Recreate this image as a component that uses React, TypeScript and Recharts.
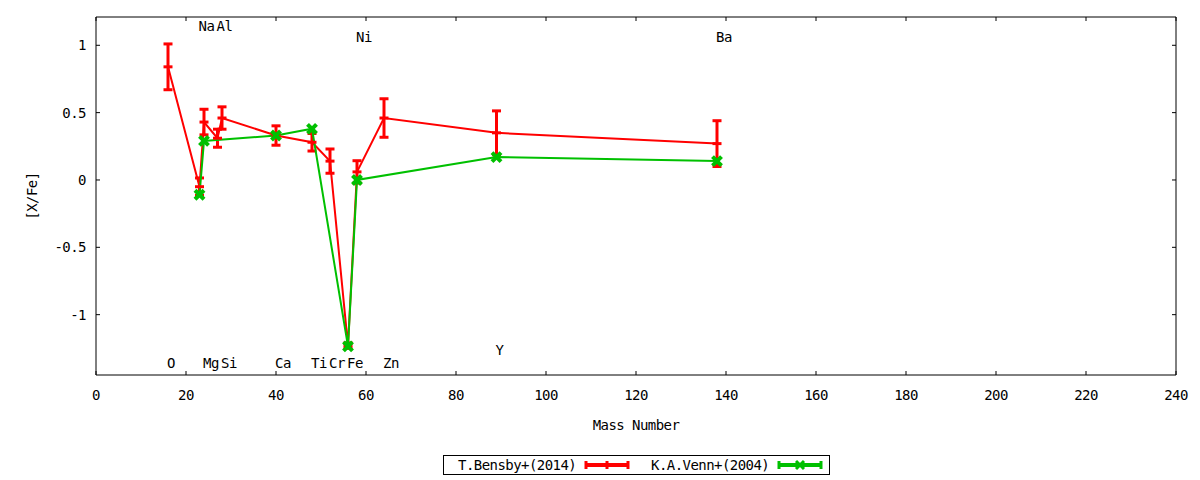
import { ComposedChart, Line, XAxis, YAxis, ErrorBar, Scatter } from 'recharts'

// ─── Data ────────────────────────────────────────────────────────────────────

// T.Bensby+(2014)
const bensbyMass = [16, 23, 24, 27, 28, 40, 48, 52, 56, 58, 64, 89, 138]
const bensbyValue = [0.84, -0.05, 0.43, 0.31, 0.46, 0.33, 0.28, 0.14, -1.23, 0.06, 0.46, 0.35, 0.27]
const bensbyError = [0.17, 0.065, 0.095, 0.067, 0.083, 0.072, 0.065, 0.09, 0.02, 0.083, 0.143, 0.163, 0.17]

// K.A.Venn+(2004)
const vennMass = [23, 24, 40, 48, 56, 58, 89, 138]
const vennValue = [-0.11, 0.29, 0.33, 0.38, -1.235, 0.0, 0.17, 0.14]

// element labels placed in data coordinates
const labelNames = ['O', 'Na', 'Mg', 'Al', 'Si', 'Ca', 'Ti', 'Cr', 'Fe', 'Ni', 'Zn', 'Y', 'Ba']
const labelMass = [16, 23, 24, 27, 28, 40, 48, 52, 56, 58, 64, 89, 138]
const labelLevel = [-1.36, 1.14, -1.36, 1.14, -1.36, -1.36, -1.36, -1.36, -1.36, 1.06, -1.36, -1.26, 1.06]

const xTicks = [0, 20, 40, 60, 80, 100, 120, 140, 160, 180, 200, 220, 240]
const yTicks = [-1, -0.5, 0, 0.5, 1]

// ─── Constants ───────────────────────────────────────────────────────────────

const FONT = '"DejaVu Sans Mono", monospace'
const RED = '#ff0000'
const GREEN = '#00c000'
const TICK = 4
const X_DOMAIN: [number, number] = [0, 240]
const Y_DOMAIN: [number, number] = [-1.448, 1.21]

const bensbyData = bensbyMass.map((x, i) => ({ x, y: bensbyValue[i], err: bensbyError[i] }))
const vennData = vennMass.map((x, i) => ({ x, y: vennValue[i] }))
const labelData = labelNames.map((name, i) => ({ name, x: labelMass[i], y: labelLevel[i] }))

const textStyle = { fontFamily: FONT, fontSize: 14, letterSpacing: -0.55, fill: '#000' }

// ─── Tick renderers (gnuplot style: ticks inside the frame) ──────────────────

function BottomTick({ x, y, payload }: any) {
  return (
    <g>
      <line x1={x} x2={x} y1={y} y2={y - TICK} stroke="#000" />
      <text x={x} y={y + 20} textAnchor="middle" dominantBaseline="central" style={textStyle}>
        {payload.value}
      </text>
    </g>
  )
}

function TopTick({ x, y }: any) {
  return <line x1={x} x2={x} y1={y} y2={y + TICK} stroke="#000" />
}

function LeftTick({ x, y, payload }: any) {
  return (
    <g>
      <line x1={x} x2={x + TICK} y1={y} y2={y} stroke="#000" />
      <text x={x - 10} y={y} textAnchor="end" dominantBaseline="central" style={textStyle}>
        {payload.value}
      </text>
    </g>
  )
}

function RightTick({ x, y }: any) {
  return <line x1={x} x2={x - TICK} y1={y} y2={y} stroke="#000" />
}

// ─── Point markers ───────────────────────────────────────────────────────────

function RedDot({ cx, cy, index }: any) {
  return <line key={`r${index}`} x1={cx - 4.5} x2={cx + 4.5} y1={cy} y2={cy} stroke={RED} strokeWidth={3} />
}

function GreenDot({ cx, cy, index }: any) {
  return (
    <g key={`g${index}`} stroke={GREEN} strokeWidth={4}>
      <line x1={cx - 4.5} y1={cy - 4.5} x2={cx + 4.5} y2={cy + 4.5} />
      <line x1={cx - 4.5} y1={cy + 4.5} x2={cx + 4.5} y2={cy - 4.5} />
    </g>
  )
}

function ElementLabel({ cx, cy, payload }: any) {
  return (
    <text x={cx - 1} y={cy} dominantBaseline="central" style={textStyle}>
      {payload.name}
    </text>
  )
}

// ─── Legend ──────────────────────────────────────────────────────────────────

function LegendBox() {
  const cy = 465
  return (
    <svg width={1200} height={480} style={{ position: 'absolute', left: 0, top: 0, pointerEvents: 'none' }}>
      <rect x={443.5} y={455.5} width={386} height={19} fill="none" stroke="#000" />
      <text x={458} y={cy} dominantBaseline="central" style={textStyle}>T.Bensby+(2014)</text>
      <g stroke={RED} strokeWidth={3}>
        <line x1={586} x2={628} y1={cy} y2={cy} strokeWidth={4} />
        <line x1={586} x2={586} y1={cy - 4} y2={cy + 4} />
        <line x1={628} x2={628} y1={cy - 4} y2={cy + 4} />
        <line x1={607} x2={607} y1={cy - 4} y2={cy + 4} />
      </g>
      <text x={651} y={cy} dominantBaseline="central" style={textStyle}>K.A.Venn+(2004)</text>
      <g stroke={GREEN} strokeWidth={3}>
        <line x1={779} x2={821} y1={cy} y2={cy} strokeWidth={4} />
        <line x1={779} x2={779} y1={cy - 4} y2={cy + 4} />
        <line x1={821} x2={821} y1={cy - 4} y2={cy + 4} />
        <line x1={796} x2={804} y1={cy - 4} y2={cy + 4} />
        <line x1={796} x2={804} y1={cy + 4} y2={cy - 4} />
      </g>
    </svg>
  )
}

// ═════════════════════════════════════════════════════════════════════════════

export default function App() {
  return (
    <div style={{ position: 'absolute', left: 0, top: 0, width: 1200, height: 480, background: '#fff' }}>
      <ComposedChart width={1200} height={480} margin={{ top: 16, right: 23, bottom: 45, left: 0 }}>
        <XAxis
          dataKey="x"
          type="number"
          domain={X_DOMAIN}
          ticks={xTicks}
          interval={0}
          height={60}
          tickSize={0}
          tickMargin={0}
          tickLine={false}
          axisLine={{ stroke: '#000' }}
          tick={<BottomTick />}
          allowDataOverflow
          label={{
            content: ({ viewBox }: any) => (
              <text x={viewBox.x + viewBox.width / 2} y={viewBox.y + 50} textAnchor="middle" dominantBaseline="central" style={textStyle}>
                Mass Number
              </text>
            ),
          }}
        />
        {/* mirrored frame: 1px boxes so Recharts still draws them */}
        <XAxis
          xAxisId="top"
          orientation="top"
          dataKey="x"
          type="number"
          domain={X_DOMAIN}
          ticks={xTicks}
          interval={0}
          height={1}
          tickSize={0}
          tickMargin={0}
          tickLine={false}
          axisLine={{ stroke: '#000' }}
          tick={<TopTick />}
          allowDataOverflow
        />
        <YAxis
          dataKey="y"
          type="number"
          domain={Y_DOMAIN}
          ticks={yTicks}
          interval={0}
          width={96}
          tickSize={0}
          tickMargin={0}
          tickLine={false}
          axisLine={{ stroke: '#000' }}
          tick={<LeftTick />}
          allowDataOverflow
          label={{
            content: ({ viewBox }: any) => {
              const lx = viewBox.x + 32
              const ly = viewBox.y + viewBox.height / 2
              return (
                <text x={lx} y={ly} textAnchor="middle" dominantBaseline="central" transform={`rotate(-90 ${lx} ${ly})`} style={textStyle}>
                  [X/Fe]
                </text>
              )
            },
          }}
        />
        <YAxis
          yAxisId="right"
          orientation="right"
          dataKey="y"
          type="number"
          domain={Y_DOMAIN}
          ticks={yTicks}
          interval={0}
          width={1}
          tickSize={0}
          tickMargin={0}
          tickLine={false}
          axisLine={{ stroke: '#000' }}
          tick={<RightTick />}
          allowDataOverflow
        />

        {/* invisible series bound to the mirrored axes */}
        <Line
          data={vennData}
          dataKey="y"
          xAxisId="top"
          yAxisId="right"
          stroke="none"
          dot={false}
          activeDot={false}
          legendType="none"
          isAnimationActive={false}
        />

        <Line
          data={bensbyData}
          dataKey="y"
          stroke={RED}
          strokeWidth={2}
          dot={RedDot}
          activeDot={false}
          isAnimationActive={false}
        >
          <ErrorBar dataKey="err" direction="y" width={4.5} strokeWidth={3} stroke={RED} isAnimationActive={false} />
        </Line>
        <Line
          data={vennData}
          dataKey="y"
          stroke={GREEN}
          strokeWidth={2}
          dot={GreenDot}
          activeDot={false}
          isAnimationActive={false}
        />
        <Scatter data={labelData} dataKey="y" shape={ElementLabel} isAnimationActive={false} />
      </ComposedChart>
      <LegendBox />
    </div>
  )
}
